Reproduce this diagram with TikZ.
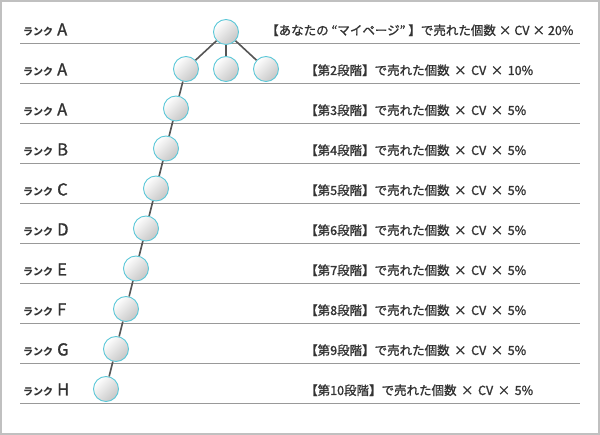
\documentclass[tikz,border=0pt]{standalone}
\usepackage{fontspec}
\setmainfont{Noto Sans CJK JP}
\newfontfamily\fmed{Noto Sans CJK JP}[FakeBold=1.3]
\definecolor{txt}{HTML}{333333}
\definecolor{rule}{HTML}{999999}
\definecolor{frame}{HTML}{C0C0C0}
\definecolor{ring}{HTML}{5CC8D8}
\definecolor{link}{HTML}{555555}
\tikzset{
  ball/.style={circle, minimum size=25pt, inner sep=0pt, draw=ring, line width=0.9pt,
    top color=white, bottom color=gray!45, shading angle=45},
  linkline/.style={draw=link, line width=1.6pt},
  rowrule/.style={draw=rule, line width=1pt},
  rank/.style={anchor=base west, inner sep=0pt, text=txt},
  formula/.style={anchor=base west, inner sep=0pt, text=txt, font=\fmed\fontsize{12.5}{14}\selectfont},
}
\newcommand{\rk}[1]{{\bfseries\fontsize{10}{12}\selectfont ランク}\hspace{4pt}{\fmed\fontsize{16.5}{18}\selectfont #1}}
\newcommand{\tm}{\hspace{4.5pt}×\hspace{4.5pt}}
\newcommand{\tmn}{\hspace{3pt}×\hspace{3pt}}
\begin{document}
\begin{tikzpicture}[x=1pt,y=-1pt]
\useasboundingbox (0,0) rectangle (600,435);
\fill[white] (0,0) rectangle (600,435);
\draw[frame, line width=1.6pt] (1,1) rectangle (599,434);
% rules
\foreach \yy in {44,84,124,164,204,244,284,324,364,404}
  \draw[rowrule] (20,\yy) -- (580,\yy);
% rank labels
\node[rank] (r1) at (23,35.5) {\rk{A}};
\node[rank] (r2) at (23,75.5) {\rk{A}};
\node[rank] (r3) at (23,115.5) {\rk{A}};
\node[rank] (r4) at (23,155.5) {\rk{B}};
\node[rank] (r5) at (23,195.5) {\rk{C}};
\node[rank] (r6) at (23,235.5) {\rk{D}};
\node[rank] (r7) at (23,275.5) {\rk{E}};
\node[rank] (r8) at (23,315.5) {\rk{F}};
\node[rank] (r9) at (23,355.5) {\rk{G}};
\node[rank] (r10) at (23,395.5) {\rk{H}};
% formulas
\node[formula] (f1) at (266,35) {【あなたの “マイページ” 】で売れた個数\tmn CV\tmn 20\%};
\node[formula] (f2) at (305,75) {【第2段階】で売れた個数\tm CV\tm 10\%};
\node[formula] (f3) at (305,115) {【第3段階】で売れた個数\tm CV\tm 5\%};
\node[formula] (f4) at (305,155) {【第4段階】で売れた個数\tm CV\tm 5\%};
\node[formula] (f5) at (305,195) {【第5段階】で売れた個数\tm CV\tm 5\%};
\node[formula] (f6) at (305,235) {【第6段階】で売れた個数\tm CV\tm 5\%};
\node[formula] (f7) at (305,275) {【第7段階】で売れた個数\tm CV\tm 5\%};
\node[formula] (f8) at (305,315) {【第8段階】で売れた個数\tm CV\tm 5\%};
\node[formula] (f9) at (305,355) {【第9段階】で売れた個数\tm CV\tm 5\%};
\node[formula] (f10) at (305,395) {【第10段階】で売れた個数\tm CV\tm 5\%};
% balls
\node[ball] (c1) at (226,32) {};
\node[ball] (c2a) at (186,69) {};
\node[ball] (c2b) at (226,69) {};
\node[ball] (c2c) at (266,69) {};
\node[ball] (c3) at (176,108.5) {};
\node[ball] (c4) at (166,148.5) {};
\node[ball] (c5) at (156,188.5) {};
\node[ball] (c6) at (146,228.5) {};
\node[ball] (c7) at (136,268.5) {};
\node[ball] (c8) at (126,309) {};
\node[ball] (c9) at (116,349) {};
\node[ball] (c10) at (106,389) {};
% links
\draw[linkline] (c1) -- (c2a);
\draw[linkline] (c1) -- (c2b);
\draw[linkline] (c1) -- (c2c);
\draw[linkline] (c2a) -- (c3);
\draw[linkline] (c3) -- (c4);
\draw[linkline] (c4) -- (c5);
\draw[linkline] (c5) -- (c6);
\draw[linkline] (c6) -- (c7);
\draw[linkline] (c7) -- (c8);
\draw[linkline] (c8) -- (c9);
\draw[linkline] (c9) -- (c10);
\end{tikzpicture}
\end{document}
